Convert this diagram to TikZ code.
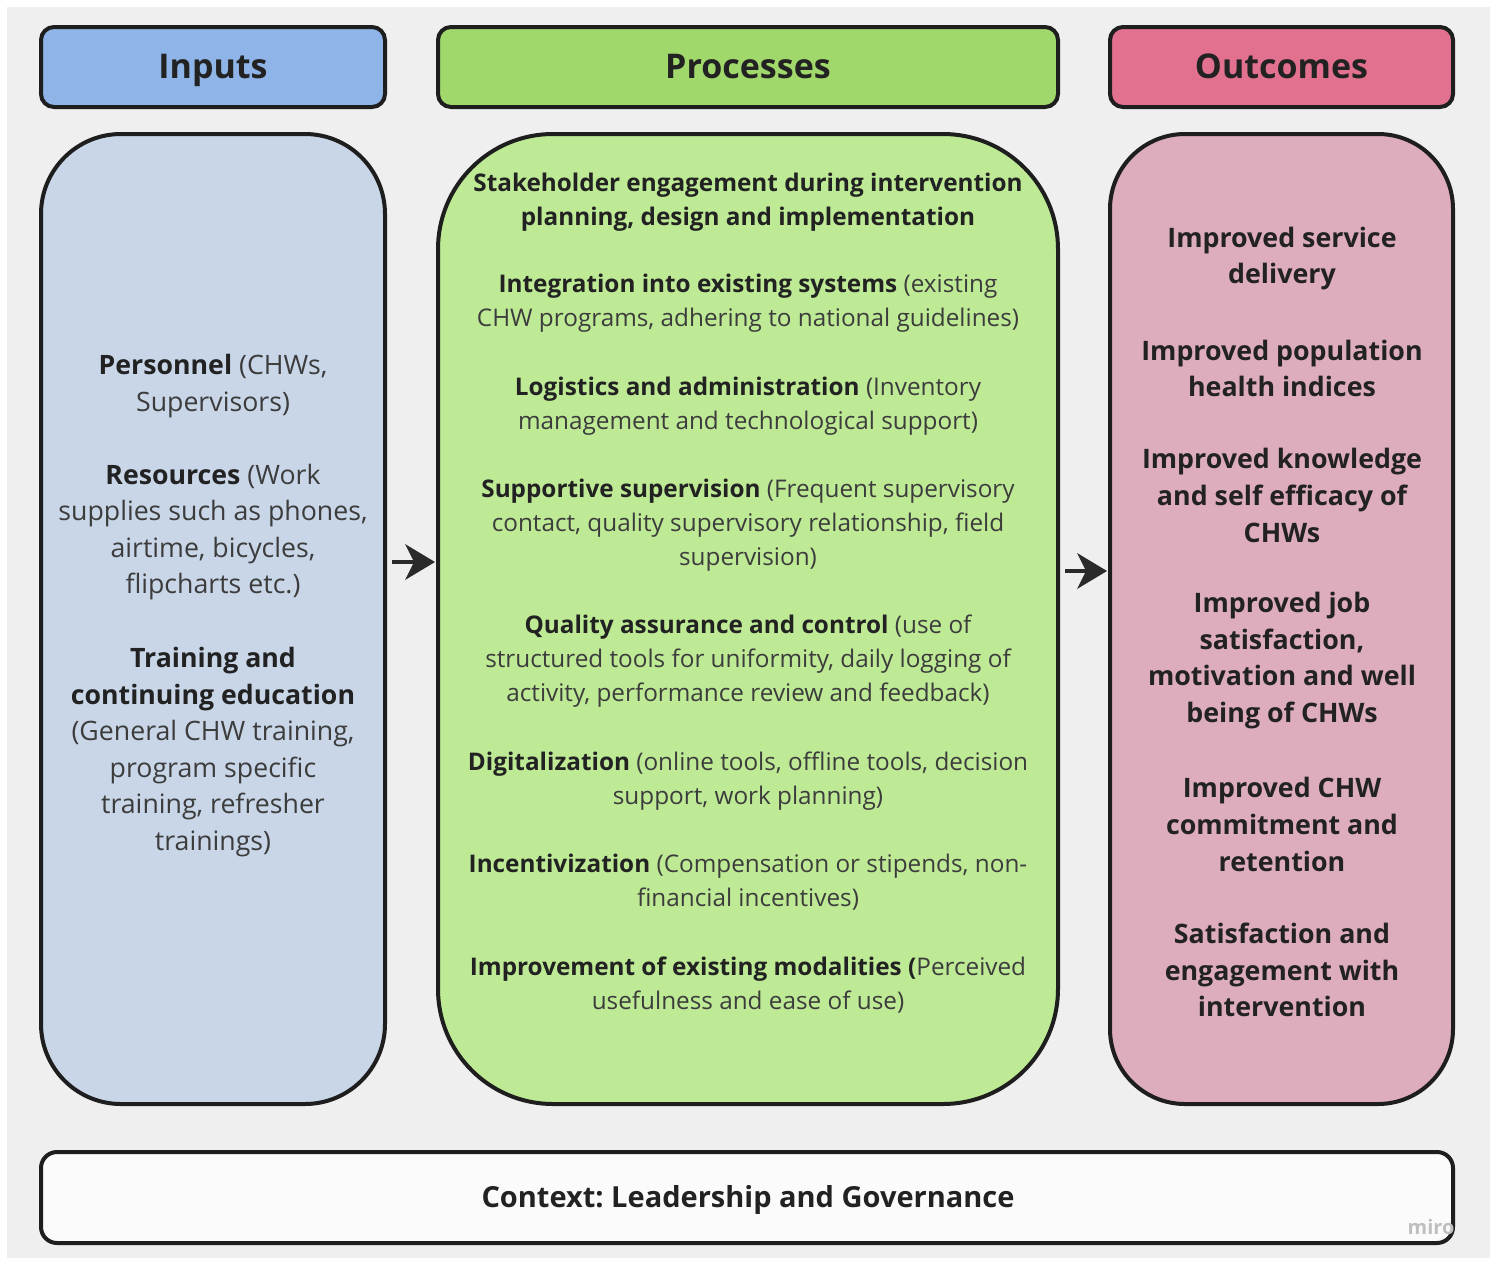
\documentclass[tikz,border=0pt]{standalone}
\usepackage{fontspec}
\setmainfont{Open Sans}
\usetikzlibrary{arrows.meta}
\frenchspacing

\definecolor{bgcol}{HTML}{EFEFEF}
\definecolor{edge}{HTML}{1E1E1E}
\definecolor{inhead}{HTML}{8EB4E8}
\definecolor{inbody}{HTML}{C8D6E8}
\definecolor{prhead}{HTML}{A1D86C}
\definecolor{prbody}{HTML}{BEEA96}
\definecolor{ouhead}{HTML}{E2718F}
\definecolor{oubody}{HTML}{DDADBE}
\definecolor{ctxcol}{HTML}{FBFBFB}
\definecolor{boldtxt}{HTML}{222222}
\definecolor{normtxt}{HTML}{3C3C3C}
\definecolor{arrcol}{HTML}{2A2A2A}

\tikzset{
  panel/.style={draw=edge, line width=4pt, inner sep=0pt},
  header/.style={panel, rounded corners=13pt, minimum height=80pt,
    text height=25pt, text depth=2pt,
    font=\fontsize{34}{40}\selectfont\bfseries, text=boldtxt},
  para/.style={align=center, inner sep=0pt, text=normtxt},
  arr/.style={draw=arrcol, line width=4pt,
    -{Stealth[length=30pt,width=36pt,inset=9pt,line width=0pt]}},
}
\newcommand{\hb}[1]{\textcolor{boldtxt}{\bfseries #1}}

\begin{document}
\begin{tikzpicture}[x=1pt,y=-1pt]
  % page and background
  \useasboundingbox (0,0) rectangle (1497,1261);
  \fill[bgcol] (7,7) rectangle (1490,1258);

  % column headers
  \node[header, fill=inhead, minimum width=344pt] (hin) at (213,67) {Inputs};
  \node[header, fill=prhead, minimum width=620pt] (hpr) at (748,67) {Processes};
  \node[header, fill=ouhead, minimum width=343pt] (hou) at (1281.5,67) {Outcomes};

  % column bodies
  \node[panel, fill=inbody, rounded corners=80pt, minimum width=344pt, minimum height=970pt] (bin) at (213,619) {};
  \node[panel, fill=prbody, rounded corners=115pt, minimum width=620pt, minimum height=970pt] (bpr) at (748,619) {};
  \node[panel, fill=oubody, rounded corners=75pt, minimum width=343pt, minimum height=970pt] (bou) at (1281.5,619) {};

  % context bar
  \node[panel, fill=ctxcol, rounded corners=16pt, minimum width=1412pt, minimum height=91pt] (ctx) at (747,1197.5) {};
  \node[text=boldtxt, font=\fontsize{29}{34}\selectfont\bfseries, inner sep=0pt] (ctxt) at (748,1200)
        {Context: Leadership and Governance};

  % flow arrows
  \coordinate (ya) at (0,562);
  \coordinate (yb) at (0,571);
  \draw[arr] ([xshift=5pt]bin.east |- ya) -- ([xshift=-1pt]bpr.west |- ya);
  \draw[arr] ([xshift=5pt]bpr.east |- yb) -- ([xshift=-1pt]bou.west |- yb);

  \begin{scope}[shift={(0,3)}]
  % inputs
  \begin{scope}[every node/.style={para, font=\fontsize{26.7}{36.6}\selectfont}]
    \node (i1) at (213,383) {\hb{Personnel} (CHWs,\\Supervisors)};
    \node (i2) at (213,529) {\hb{Resources} (Work\\supplies such as phones,\\airtime, bicycles,\\flipcharts etc.)};
    \node (i3) at (213,749) {\hb{Training and}\\\hb{continuing education}\\(General CHW training,\\program specific\\training, refresher\\trainings)};
  \end{scope}

  % processes
  \begin{scope}[every node/.style={para, font=\fontsize{24.3}{34}\selectfont}]
    \node (p1) at (748,199) {\hb{Stakeholder engagement during intervention}\\\hb{planning, design and implementation}};
    \node (p2) at (748,300) {\hb{Integration into existing systems} (existing\\CHW programs, adhering to national guidelines)};
    \node (p3) at (748,403) {\hb{Logistics and administration} (Inventory\\management and technological support)};
    \node (p4) at (748,522.5) {\hb{Supportive supervision} (Frequent supervisory\\contact, quality supervisory relationship, field\\supervision)};
    \node (p5) at (748,658) {\hb{Quality assurance and control} (use of\\structured tools for uniformity, daily logging of\\activity, performance review and feedback)};
    \node (p6) at (748,778) {\hb{Digitalization} (online tools, offline tools, decision\\support, work planning)};
    \node (p7) at (748,879) {\hb{Incentivization} (Compensation or stipends, non-\\financial incentives)};
    \node (p8) at (748,982) {\hb{Improvement of existing modalities (}Perceived\\usefulness and ease of use)};
  \end{scope}

  % outcomes
  \begin{scope}[every node/.style={para, text=boldtxt, font=\fontsize{26.8}{36.8}\selectfont\bfseries}]
    \node (o1) at (1282,255.5) {Improved service\\delivery};
    \node (o2) at (1282,365.5) {Improved population\\health indices};
    \node (o3) at (1282,492.5) {Improved knowledge\\and self efficacy of\\CHWs};
    \node (o4) at (1282,657.5) {Improved job\\satisfaction,\\motivation and well\\being of CHWs};
    \node (o5) at (1282,821.5) {Improved CHW\\commitment and\\retention};
    \node (o6) at (1282,967) {Satisfaction and\\engagement with\\intervention};
  \end{scope}
  \end{scope}

  % watermark
  \node[text=black!25, font=\fontsize{20}{24}\selectfont\bfseries, inner sep=0pt] (wm) at (1431,1227) {miro};
\end{tikzpicture}
\end{document}
